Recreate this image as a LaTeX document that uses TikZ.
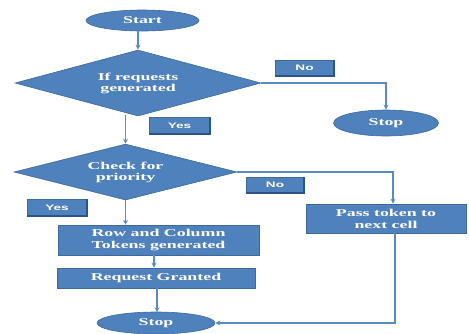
\documentclass[tikz,border=0pt]{standalone}
\usepackage{fontspec}
\usetikzlibrary{shapes.geometric,arrows.meta,calc}
\newfontfamily\boxfont{Liberation Serif}[FakeStretch=1.7]
\newfontfamily\tagfont{Liberation Sans}[FakeStretch=1.7]
\definecolor{fc}{HTML}{4F81BD}
\definecolor{bc}{HTML}{3D6A9E}
\definecolor{sc}{HTML}{2C5486}
\definecolor{ac}{HTML}{5A8AC6}
\tikzset{
  shapebase/.style={fill=fc,draw=bc,line width=0.6pt,text=white,inner sep=0pt,
    font=\boxfont\bfseries\fontsize{10.5}{12}\selectfont,align=center},
  oval/.style={shapebase,ellipse},
  dia/.style={shapebase,diamond},
  boxn/.style={shapebase,rectangle},
  tagn/.style={fill=fc,draw=bc,line width=0.5pt,text=white,inner sep=0pt,
    font=\tagfont\bfseries\fontsize{8}{9}\selectfont},
  tagshadow/.style={draw=sc,line width=1.6pt},
  conn/.style={draw=ac,line width=1.3pt,-{Stealth[length=5pt,width=5pt]}}
}
\begin{document}
\begin{tikzpicture}[x=1pt,y=-1pt]
\useasboundingbox (0,0) rectangle (469,333);
% nodes
\node[oval,minimum width=113pt,minimum height=21pt] (start) at (142.5,20.5) {Start};
\node[dia,minimum width=246pt,minimum height=66pt,aspect=3.7] (d1) at (138,83) {If requests\\[-1pt]generated};
\node[oval,minimum width=105pt,minimum height=26pt] (stop1) at (386,123) {Stop};
\node[tagn,minimum width=59pt,minimum height=16pt] (no1) at (304.5,68) {No};
\node[tagn,minimum width=61pt,minimum height=17pt] (yes1) at (179.5,125.5) {Yes};
\node[dia,minimum width=223pt,minimum height=56pt,aspect=4] (d2) at (125.5,172) {Check for\\[-1pt]priority};
\node[tagn,minimum width=58pt,minimum height=16pt] (no2) at (275,185) {No};
\node[tagn,minimum width=60pt,minimum height=17pt] (yes2) at (57,207.5) {Yes};
\node[boxn,minimum width=160pt,minimum height=29pt] (pass) at (386,218.5) {Pass token to\\next cell};
\node[boxn,minimum width=201pt,minimum height=30pt] (row) at (158.5,240) {Row and Column\\Tokens generated};
\node[boxn,minimum width=198pt,minimum height=20pt] (req) at (156,278) {Request Granted};
\node[oval,minimum width=118pt,minimum height=22pt] (stop2) at (156,323) {Stop};
% tag bevels
\foreach \t in {no1,yes1,no2,yes2}
  \draw[tagshadow] (\t.north east) -- (\t.south east) -- (\t.south west);
% connectors
\draw[conn] (d1.north |- start.south) -- (d1.north);
\draw[conn] (d1.east) -| (stop1.north);
\draw[conn] ($(d2.north |- d1.south)+(0,-1)$) -- (d2.north);
\draw[conn] (d2.east) -| ($(pass.north)+(7,0)$);
\draw[conn] (d2.south) -- (d2.south |- row.north);
\draw[conn] ($(row.south)+(-4.5,0)$) -- ($(req.north)+(-2,0)$);
\draw[conn] ($(req.south)+(1,0)$) -- ($(stop2.north)+(1,0.5)$);
\draw[conn] ($(pass.south)+(9,0)$) |- (stop2.east);
\end{tikzpicture}
\end{document}
